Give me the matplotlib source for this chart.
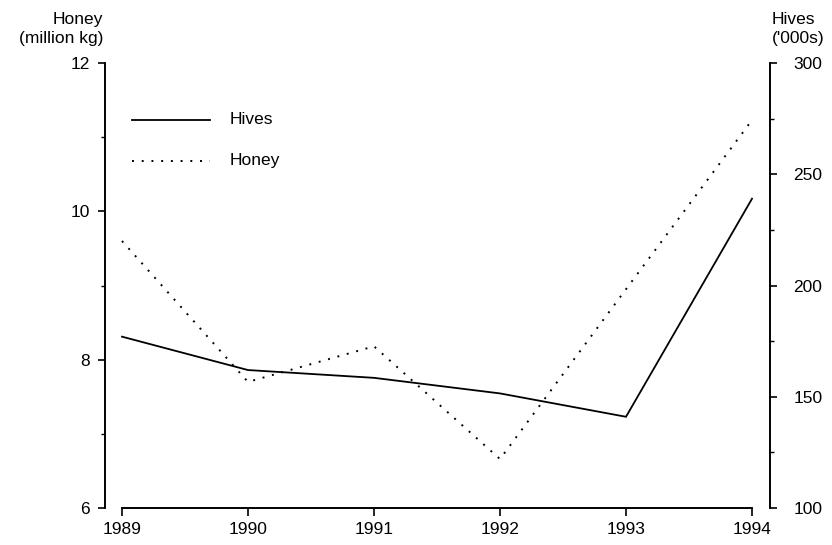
import matplotlib.pyplot as plt
from matplotlib.ticker import MultipleLocator

plt.rcParams['font.family'] = ['Liberation Sans', 'DejaVu Sans']

years = [1989, 1990, 1991, 1992, 1993, 1994]
hives = [177, 162, 158.5, 151.5, 141, 239]      # '000s, right axis
honey = [9.6, 7.7, 8.18, 6.66, 8.95, 11.23]     # million kg, left axis

fig = plt.figure(figsize=(8.32, 5.45), dpi=100)
ax = fig.add_axes((105/832, 1 - 508/545, 665/832, 445/545))
ax2 = ax.twinx()

ax2.plot(years, hives, color="black", lw=1.3, solid_joinstyle="miter")
ax.plot(years, honey, color="black", lw=1.4, linestyle=(0, (1, 4)))

ax.set_xlim(1989 - 17/126, 1994 + 18/126)
ax.set_ylim(6, 12)
ax2.set_ylim(100, 300)

for a in (ax, ax2):
    a.spines['top'].set_visible(False)
    a.spines['bottom'].set_bounds(1989, 1994)
    for s in a.spines.values():
        s.set_linewidth(1.2)

ax.set_xticks(years)
ax.set_yticks([6, 8, 10, 12])
ax.yaxis.set_minor_locator(MultipleLocator(1))
ax2.set_yticks([100, 150, 200, 250, 300])
ax2.yaxis.set_minor_locator(MultipleLocator(25))

fs = 12.5
ax.tick_params(axis='x', direction='out', length=6, width=1.2, pad=4, labelsize=fs)
ax.tick_params(axis='y', which='major', direction='out', length=5, width=1.2, pad=6, labelsize=fs)
ax.tick_params(axis='y', which='minor', direction='out', length=3, width=1)
ax2.tick_params(axis='y', which='major', direction='out', length=5, width=1.2, pad=12, labelsize=fs)
ax2.tick_params(axis='y', which='minor', direction='out', length=3, width=1)

fig.text(103/832, 1 - 12/545, "Honey\n(million kg)", ha='right', va='top',
         multialignment='right', fontsize=fs, linespacing=1.3)
fig.text(772/832, 1 - 12/545, "Hives\n('000s)", ha='left', va='top',
         multialignment='left', fontsize=fs, linespacing=1.3)

# legend drawn as lines in axes coords
ax.plot([0.04, 0.158], [0.873, 0.873], transform=ax.transAxes, color="black", lw=1.3)
ax.plot([0.04, 0.158], [0.78, 0.78], transform=ax.transAxes, color="black", lw=1.4,
        linestyle=(0, (1, 4)))
ax.text(0.188, 0.873, "Hives", transform=ax.transAxes, va='center', fontsize=fs)
ax.text(0.188, 0.78, "Honey", transform=ax.transAxes, va='center', fontsize=fs)

fig.savefig("out.png", dpi=100)
